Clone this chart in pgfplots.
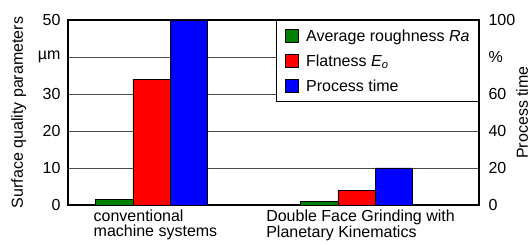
\documentclass[border=0pt]{standalone}
\usepackage{fontspec}
\setmainfont{Liberation Sans}
\usepackage{pgfplots}
\pgfplotsset{compat=1.18}
\definecolor{bgreen}{RGB}{0,128,0}
\definecolor{bred}{RGB}{255,0,0}
\definecolor{bblue}{RGB}{0,0,255}
\begin{document}
\begin{tikzpicture}
\useasboundingbox (-68pt,-40pt) rectangle (464pt,205pt);
\begin{axis}[
  at={(0,0)}, anchor=south west,
  scale only axis, width=411pt, height=185pt,
  xmin=-0.407, xmax=1.597, ymin=0, ymax=50,
  ybar=0pt, bar width=37.3pt,
  xtick={0,1},
  xticklabels={conventional\\machine systems, Double Face Grinding with\\Planetary Kinematics},
  xticklabel style={align=left, font=\fontsize{16pt}{14.5pt}\selectfont, xshift=4pt, yshift=-1.5pt},
  ytick={0,10,20,30,40,50},
  yticklabels={0,10,20,30,µm,50},
  yticklabel style={font=\fontsize{16pt}{16pt}\selectfont, xshift=-4pt},
  /pgf/number format/assume math mode=true,
  major tick length=0pt,
  ymajorgrids, grid style={gray!60!black, line width=0.7pt},
  axis line style={line width=1.4pt, black},
  ylabel={Surface quality parameters},
  ylabel style={at={(axis description cs:-0.12,0.5)}, anchor=center, rotate=0, font=\fontsize{16pt}{16pt}\selectfont},
  legend style={at={(1,1)}, anchor=north east, draw=black, line width=1pt, fill=white,
    font=\fontsize{16pt}{16pt}\selectfont, row sep=8pt, inner xsep=7pt, inner ysep=7pt,
    /tikz/every even column/.append style={column sep=0pt}},
  legend image code/.code={\path (0pt,0pt) (20pt,0pt); \draw[#1, line width=0.5pt, draw=black] (1pt,-6.5pt) rectangle (14pt,6.5pt);},
  legend cell align=left,
]
\addplot[fill=bgreen, draw=black, line width=0.5pt] coordinates {(0,1.6) (1,1.0)};
\addplot[fill=bred, draw=black, line width=0.5pt] coordinates {(0,34) (1,4.0)};
\addplot[fill=bblue, draw=black, line width=0.5pt, y filter/.expression={y/2}] coordinates {(0,100) (1,20)};
\legend{Average roughness \textit{Ra}, {Flatness \textit{E}\textsubscript{\textit{o}}}, Process time}
\end{axis}
\begin{axis}[
  at={(0,0)}, anchor=south west,
  scale only axis, width=411pt, height=185pt,
  xmin=-0.407, xmax=1.597, ymin=0, ymax=100,
  hide x axis, axis y line*=right,
  ytick={0,20,40,60,80,100},
  yticklabels={0,20,40,60,\%,100},
  yticklabel style={font=\fontsize{16pt}{16pt}\selectfont, xshift=6pt},
  /pgf/number format/assume math mode=true,
  major tick length=0pt,
  axis line style={line width=1.4pt, black},
  ylabel={Process time},
  ylabel style={at={(axis description cs:1.105,0.5)}, anchor=center, rotate=0, font=\fontsize{16pt}{16pt}\selectfont},
]
\addplot[draw=none] coordinates {(0,0)};
\end{axis}
\end{tikzpicture}
\end{document}
